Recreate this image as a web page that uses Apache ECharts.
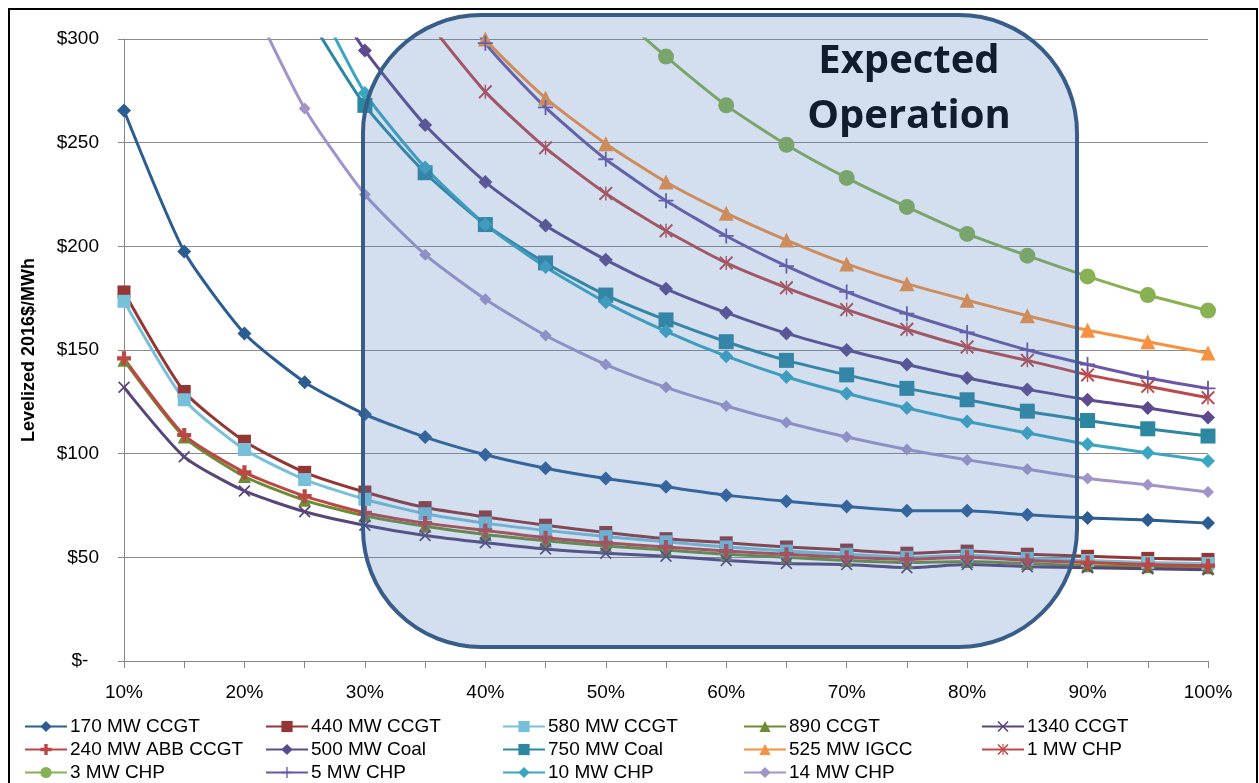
<!DOCTYPE html>
<html>
<head>
<meta charset="utf-8">
<script src="https://cdn.jsdelivr.net/npm/echarts@6/dist/echarts.min.js"></script>
<style>
  html, body { margin: 0; padding: 0; background: #fff; }
  #chart { width: 1259px; height: 783px; }
</style>
</head>
<body>
<div id="chart"></div>
<script>
// capacity factor categories (x axis)
const categories = ['10%', '15%', '20%', '25%', '30%', '35%', '40%', '45%', '50%', '55%',
  '60%', '65%', '70%', '75%', '80%', '85%', '90%', '95%', '100%'];

// levelized cost, 2016$/MWh, one value per category (null = not plotted)
const ccgt170 = [265.5, 197.5, 158, 134.5, 119, 108, 99.5, 93, 88, 84, 80, 77, 74.5, 72.5, 72.5, 70.5, 69, 68, 66.5];
const ccgt440 = [178, 130, 106, 91, 81.5, 74, 69.5, 65.5, 62, 59, 57, 55, 53.5, 52, 53, 51.5, 50.5, 49.5, 49];
const ccgt580 = [173.5, 126, 102, 87.5, 78, 71, 66.5, 63, 60, 57.5, 55, 53, 51.5, 50, 51, 49.5, 48.5, 47.5, 47];
const ccgt890 = [145, 108, 89, 77.5, 70, 65, 61, 58, 55.5, 53.5, 51.5, 50, 48.5, 47.5, 48, 47, 46, 45.5, 45];
const ccgt1340 = [132, 98.5, 82, 72, 65.5, 60.5, 57, 54, 52, 50.5, 48.5, 47, 46.5, 45, 46.5, 45.5, 45, 44.5, 44];
const abbCcgt240 = [146, 109, 91, 79.5, 71.5, 66.5, 63, 59.5, 57, 55, 53, 51.5, 50, 49, 50, 48.5, 47.5, 46.5, 46];
const coal500 = [null, null, null, 340, 294.5, 258.5, 231, 210, 193.5, 179.5, 168, 158, 150, 143, 136.5, 131, 126, 122, 117.5];
const coal750 = [null, null, null, 314, 268, 235.5, 210.5, 192, 176.5, 164.5, 154, 145, 138, 131.5, 126, 120.5, 116, 112, 108.5];
const igcc525 = [null, null, null, null, null, 345, 300, 271.5, 249.5, 231, 216, 203, 191.5, 182, 174, 166.5, 159.5, 154, 148.5];
const chp1 = [null, null, null, null, null, 310, 274.5, 247.5, 225.5, 207.5, 192, 180, 169.5, 160, 151.5, 145, 138, 132.5, 127];
const chp3 = [null, null, null, null, null, null, null, null, 317, 291.5, 268, 249, 233, 219, 206, 195.5, 185.5, 176.5, 169];
const chp5 = [null, null, null, null, null, 345, 298, 267, 242, 222, 205, 190.5, 178, 167.5, 158.5, 150, 143, 136.5, 131.5];
const chp10 = [null, null, null, 330, 274, 238, 210.5, 190, 173, 159, 147, 137, 129, 122, 115.5, 110, 104.5, 100.5, 96.5];
const chp14 = [null, null, 325, 266.5, 225, 196, 174.5, 157, 143, 132, 123, 115, 108, 102, 97, 92.5, 88, 85, 81.5];

const seriesNames = ['170 MW CCGT', '440 MW CCGT', '580 MW CCGT', '890 CCGT', '1340 CCGT',
  '240 MW ABB CCGT', '500 MW Coal', '750 MW Coal', '525 MW IGCC', '1 MW CHP',
  '3 MW CHP', '5 MW CHP', '10 MW CHP', '14 MW CHP'];
const seriesData = [ccgt170, ccgt440, ccgt580, ccgt890, ccgt1340, abbCcgt240, coal500,
  coal750, igcc525, chp1, chp3, chp5, chp10, chp14];

// marker shapes that echarts does not have built in
const X_MARK = 'path://M0,1L1,0L5,4L9,0L10,1L6,5L10,9L9,10L5,6L1,10L0,9L4,5Z';
const STAR_MARK = X_MARK + 'M4.5,0H5.5V3.6H4.5ZM4.5,6.4H5.5V10H4.5Z';
const PLUS_THICK = 'path://M3.5,0H6.5V3.5H10V6.5H6.5V10H3.5V6.5H0V3.5H3.5Z';
const PLUS_THIN = 'path://M4.4,0H5.6V4.4H10V5.6H5.6V10H4.4V5.6H0V4.4H4.4Z';

const styles = [
  { color: '#2b5c92', symbol: 'diamond', size: 14 },
  { color: '#943634', symbol: 'rect', size: 13 },
  { color: '#78c0da', symbol: 'rect', size: 13 },
  { color: '#6c8c35', symbol: 'triangle', size: 13 },
  { color: '#584579', symbol: X_MARK, size: 12 },
  { color: '#bc4744', symbol: PLUS_THICK, size: 14 },
  { color: '#5e4a8e', symbol: 'diamond', size: 14 },
  { color: '#2c87a0', symbol: 'rect', size: 15 },
  { color: '#f7913f', symbol: 'triangle', size: 15 },
  { color: '#bc4a48', symbol: STAR_MARK, size: 14 },
  { color: '#87b152', symbol: 'circle', size: 16 },
  { color: '#6b57a5', symbol: PLUS_THIN, size: 15 },
  { color: '#3aa6c2', symbol: 'diamond', size: 14 },
  { color: '#a294c8', symbol: 'diamond', size: 12 }
];

const FONT = '"Liberation Sans", Arial, sans-serif';

const chart = echarts.init(document.getElementById('chart'), null, { renderer: 'canvas' });

const series = seriesNames.map((name, i) => ({
  name: name,
  type: 'line',
  data: seriesData[i],
  smooth: 0.2,
  symbol: styles[i].symbol,
  symbolSize: styles[i].size,
  showAllSymbol: true,
  clip: true,
  itemStyle: { color: styles[i].color },
  lineStyle: { color: styles[i].color, width: 3 },
  emphasis: { disabled: true }
}));

// legend laid out as 5 columns x 3 rows, like the spreadsheet
const legendCols = [24, 265, 502, 743, 981];
const legends = legendCols.map((left, c) => ({
  orient: 'vertical',
  left: left,
  top: 717,
  height: 70,
  padding: 0,
  itemWidth: 42,
  itemHeight: 14,
  itemGap: 4,
  selectedMode: false,
  data: seriesNames.filter((n, i) => i % 5 === c),
  textStyle: { fontFamily: FONT, fontSize: 19, color: '#000', lineHeight: 19, padding: [0, 0, 0, -2] }
}));

const option = {
  animation: false,
  backgroundColor: '#fff',
  grid: { left: 124, right: 51, top: 39, bottom: 122 },
  legend: legends,
  xAxis: {
    type: 'category',
    data: categories,
    boundaryGap: false,
    axisLine: { lineStyle: { color: '#868686', width: 1 } },
    axisTick: { interval: 0, length: 7, lineStyle: { color: '#868686' } },
    axisLabel: { interval: 1, margin: 22, fontFamily: FONT, fontSize: 19, color: '#000' },
    splitLine: { show: false }
  },
  yAxis: {
    type: 'value',
    min: 0,
    max: 300,
    interval: 50,
    name: 'Levelized 2016$/MWh',
    nameLocation: 'middle',
    nameGap: 86,
    nameTextStyle: { fontFamily: FONT, fontSize: 18, fontWeight: 'bold', color: '#000' },
    axisLine: { show: true, lineStyle: { color: '#868686', width: 1 } },
    axisTick: { show: true, length: 6, lineStyle: { color: '#868686' } },
    axisLabel: {
      margin: 25,
      fontFamily: FONT,
      fontSize: 19,
      color: '#000',
      formatter: v => (v === 0 ? '$-  ' : '$' + v)
    },
    splitLine: { lineStyle: { color: '#8c8c8c', width: 1 } }
  },
  series: series,
  graphic: [
    // "Expected Operation" rounded box, translucent, drawn over the lines
    {
      type: 'rect',
      z: 100,
      silent: true,
      shape: { x: 363, y: 15, width: 714, height: 632, r: 118 },
      style: { fill: 'rgba(79,129,189,0.25)', stroke: '#385d8a', lineWidth: 4 }
    },
    {
      type: 'text',
      z: 101,
      x: 909,
      y: 62,
      style: {
        text: 'Expected', fill: '#111c2e', align: 'center', verticalAlign: 'middle',
        fontFamily: '"Open Sans", sans-serif', fontWeight: 'bold', fontSize: 40
      }
    },
    {
      type: 'text',
      z: 101,
      x: 909,
      y: 117,
      style: {
        text: 'Operation', fill: '#111c2e', align: 'center', verticalAlign: 'middle',
        fontFamily: '"Open Sans", sans-serif', fontWeight: 'bold', fontSize: 40
      }
    },
    // outer chart frame
    {
      type: 'rect',
      z: 102,
      silent: true,
      shape: { x: 9, y: 9, width: 1248, height: 800 },
      style: { fill: 'none', stroke: '#000', lineWidth: 2 }
    }
  ]
};

chart.setOption(option);

window.addEventListener('resize', () => {
  chart.resize();
});
</script>
</body>
</html>
